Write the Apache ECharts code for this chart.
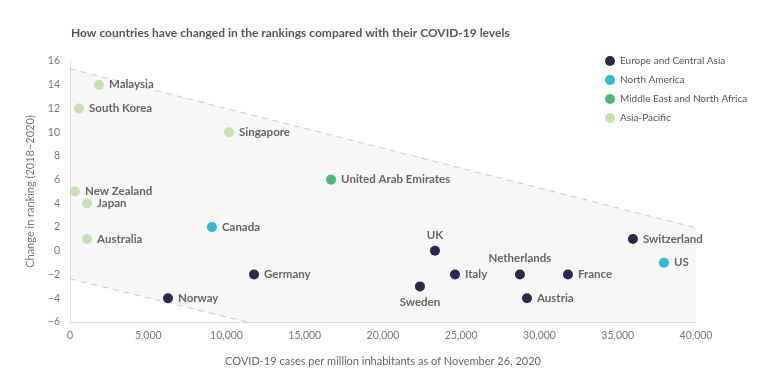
<!DOCTYPE html>
<html><head><meta charset="utf-8">
<script src="https://cdn.jsdelivr.net/npm/echarts@6/dist/echarts.min.js"></script>
<style>html,body{margin:0;padding:0;background:#fff}#c{width:768px;height:392px}</style>
</head><body><div id="c"></div>
<script>
const regions = ['Europe and Central Asia','North America','Middle East and North Africa','Asia-Pacific'];
const europe = [['UK',23320,0],['Germany',11760,-2],['Norway',6260,-4],['Sweden',22360,-3],['Italy',24600,-2],['Netherlands',28750,-2],['Austria',29200,-4],['France',31820,-2],['Switzerland',35970,1]];
const northAmerica = [['Canada',9070,2],['US',37950,-1]];
const mena = [['United Arab Emirates',16680,6]];
const asiaPacific = [['Malaysia',1850,14],['South Korea',575,12],['Singapore',10160,10],['New Zealand',320,5],['Japan',1090,4],['Australia',1090,1]];
const bandUpper = [[0,15.35],[40000,1.94]];
const bandLower = [[0,-2.36],[11310,-6]];
const xTicks = [0,5000,10000,15000,20000,25000,30000,35000,40000];
const yTicks = [-6,-4,-2,0,2,4,6,8,10,12,14,16];

const colors = ['#262a4f','#29bcd6','#4cb87a','#c4e3b3'];
const labelPos = {UK:'top', Sweden:'bottom', Netherlands:'top'};
const FONT = 'Lato';

function pts(arr){
  return arr.map(d => ({name:d[0], value:[d[1],d[2]], label:{position: labelPos[d[0]] || 'right'}}));
}
const groups = [europe, northAmerica, mena, asiaPacific];

const chart = echarts.init(document.getElementById('c'));
const series = [
  {
    type:'custom', silent:true, z:0,
    data:[0],
    renderItem:function(params, api){
      const poly = [bandUpper[0], bandUpper[1], [bandUpper[1][0], yTicks[0]], bandLower[1], bandLower[0]].map(p => api.coord(p));
      return {type:'polygon', shape:{points:poly}, style:{fill:'#f7f7f7'}};
    }
  },
  {type:'line', data:bandUpper, symbol:'none', silent:true, z:1, lineStyle:{color:'#c9c9c9', width:1, type:[6,5]}},
  {type:'line', data:bandLower, symbol:'none', silent:true, z:1, lineStyle:{color:'#c9c9c9', width:1, type:[6,5]}}
];
groups.forEach((g,i) => {
  series.push({
    name: regions[i], type:'scatter', data: pts(g), symbolSize:10, z:3,
    itemStyle:{color:colors[i], opacity:1},
    label:{show:true, formatter:'{b}', distance:5, color:'#666', fontFamily:FONT, fontWeight:'bold', fontSize:11.5}
  });
});

chart.setOption({
  animation:false,
  title:{text:'How countries have changed in the rankings compared with their COVID-19 levels', left:66, top:22,
    textStyle:{fontFamily:FONT, fontSize:12, fontWeight:'bold', color:'#555'}},
  legend:{data:regions, orient:'vertical', left:600, top:51, icon:'circle', itemWidth:10, itemHeight:10, itemGap:9,
    textStyle:{fontFamily:FONT, fontSize:10, color:'#555'}},
  grid:{left:70, right:72, top:61, bottom:70, containLabel:false},
  xAxis:{type:'value', min:0, max:40000, interval:5000,
    name:'COVID-19 cases per million inhabitants as of November 26, 2020', nameLocation:'middle', nameGap:34,
    nameTextStyle:{fontFamily:FONT, fontSize:11, color:'#666'},
    axisLine:{show:true, onZero:false, lineStyle:{color:'#ddd'}}, axisTick:{show:false}, splitLine:{show:false},
    axisLabel:{fontFamily:FONT, fontSize:10.5, color:'#777', margin:8, formatter:v => v.toLocaleString('en-US')}},
  yAxis:{type:'value', min:-6, max:16, interval:2,
    name:'Change in ranking (2018–2020)', nameLocation:'middle', nameGap:34,
    nameTextStyle:{fontFamily:FONT, fontSize:11, color:'#777'},
    axisLine:{show:true, onZero:false, lineStyle:{color:'#ddd'}}, axisTick:{show:false}, splitLine:{show:false},
    axisLabel:{fontFamily:FONT, fontSize:10.5, color:'#777', margin:10, formatter:v => String(v).replace('-','−')}},
  series: series
});
</script></body></html>
